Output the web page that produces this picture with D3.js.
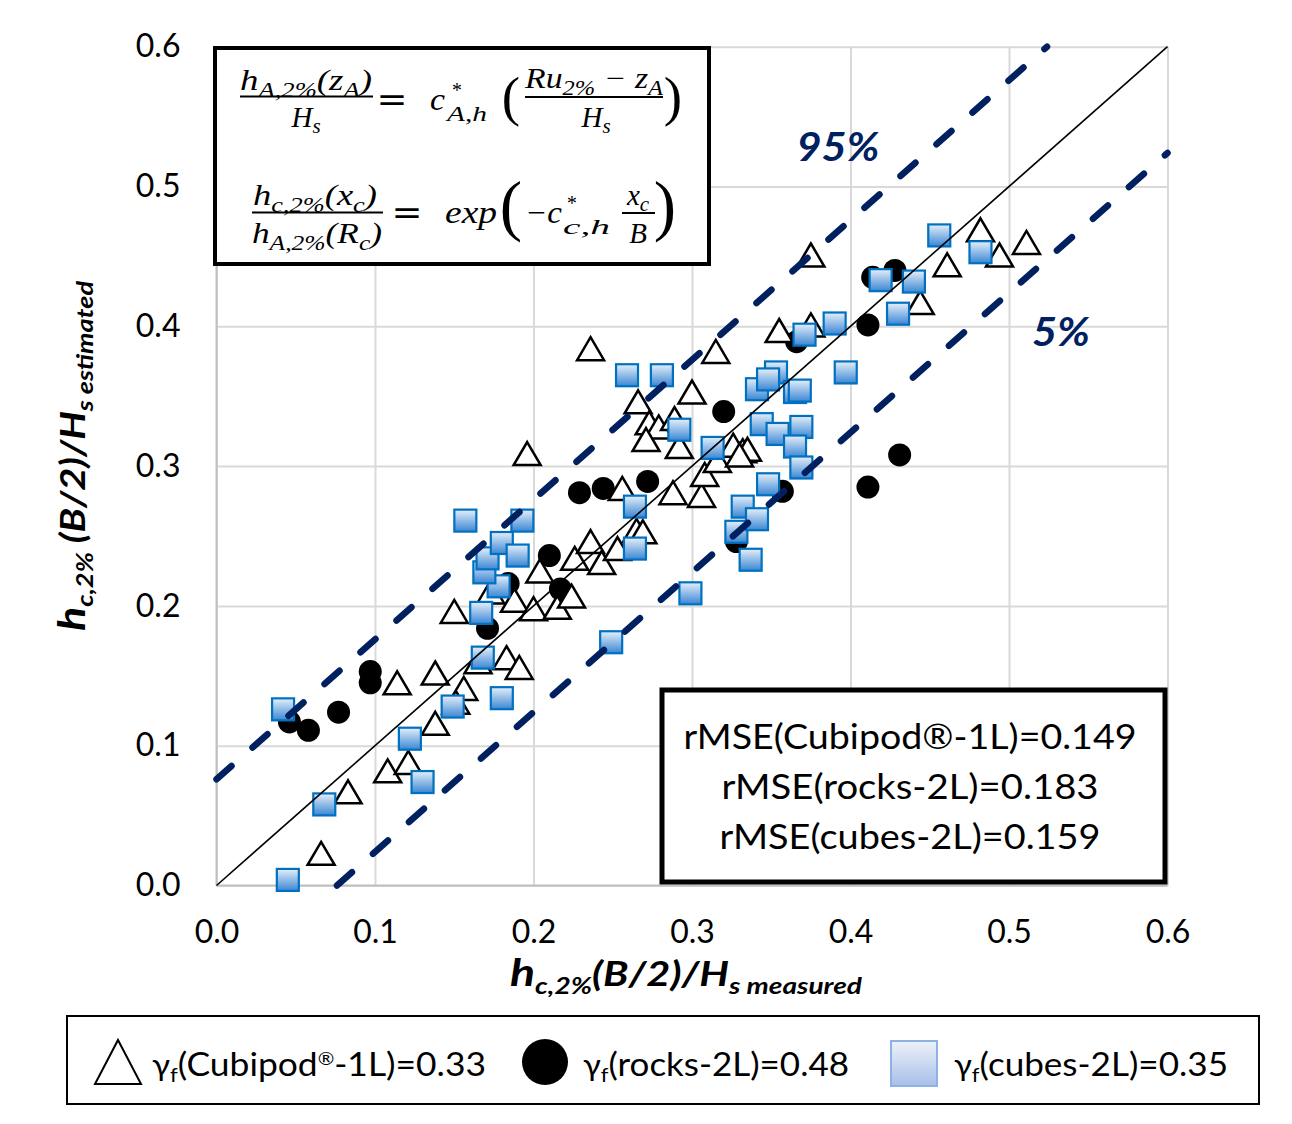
<!DOCTYPE html>
<html>
<head>
<meta charset="utf-8">
<script src="https://cdn.jsdelivr.net/npm/d3@7"></script>
<style>
  body { margin: 0; background: #fff; }
  svg { display: block; }
</style>
</head>
<body>
<svg id="chart" width="1292" height="1124"></svg>
<script>
const cubipodX = [0.066,0.083,0.108,0.121,0.114,0.138,0.138,0.156,0.151,0.165,0.183,0.191,0.150,0.173,0.188,0.200,0.215,0.204,0.226,0.236,0.243,0.253,0.265,0.269,0.224,0.196,0.236,0.266,0.273,0.279,0.289,0.271,0.292,0.256,0.288,0.306,0.308,0.316,0.326,0.332,0.335,0.330,0.300,0.315,0.355,0.375,0.375,0.444,0.461,0.482,0.494,0.511];
const cubipodY = [0.023,0.067,0.082,0.088,0.145,0.152,0.116,0.141,0.131,0.160,0.163,0.156,0.196,0.210,0.204,0.198,0.199,0.225,0.234,0.246,0.231,0.241,0.254,0.253,0.207,0.309,0.384,0.346,0.331,0.328,0.334,0.319,0.314,0.284,0.281,0.279,0.294,0.304,0.315,0.311,0.312,0.308,0.353,0.382,0.397,0.401,0.451,0.417,0.444,0.469,0.451,0.460];

const rocksX = [0.046,0.058,0.077,0.097,0.097,0.171,0.184,0.210,0.217,0.229,0.244,0.272,0.320,0.328,0.357,0.366,0.411,0.414,0.428,0.431,0.411];
const rocksY = [0.117,0.111,0.124,0.153,0.145,0.184,0.216,0.236,0.212,0.281,0.284,0.289,0.339,0.246,0.282,0.389,0.401,0.435,0.440,0.308,0.285];

const cubesX = [0.042,0.045,0.068,0.122,0.130,0.149,0.168,0.167,0.180,0.178,0.169,0.171,0.180,0.190,0.157,0.193,0.249,0.299,0.259,0.281,0.292,0.264,0.264,0.313,0.328,0.332,0.341,0.337,0.348,0.344,0.354,0.341,0.353,0.348,0.365,0.368,0.369,0.365,0.369,0.371,0.390,0.397,0.419,0.430,0.440,0.456,0.482];
const cubesY = [0.126,0.004,0.058,0.105,0.074,0.128,0.163,0.195,0.134,0.214,0.224,0.234,0.245,0.236,0.261,0.261,0.174,0.209,0.365,0.365,0.326,0.271,0.241,0.313,0.253,0.271,0.262,0.233,0.287,0.330,0.323,0.355,0.367,0.362,0.353,0.354,0.328,0.314,0.299,0.394,0.402,0.367,0.433,0.409,0.432,0.465,0.453];

// lineas: 1:1 y bandas 95% / 5%
const lineOneToOne = [[0, 0], [0.6, 0.6]];
const line95 = [[0, 0.076], [0.524, 0.6]];
const line5 = [[0.076, 0], [0.6, 0.524]];

const xTicks = [0, 0.1, 0.2, 0.3, 0.4, 0.5, 0.6];
const yTicks = [0, 0.1, 0.2, 0.3, 0.4, 0.5, 0.6];

const rmseLabels = ["rMSE(Cubipod®-1L)=0.149", "rMSE(rocks-2L)=0.183", "rMSE(cubes-2L)=0.159"];
const legendNames = ["(Cubipod", "(rocks-2L)=0.48", "(cubes-2L)=0.35"];

const W = 1292, H = 1124;
const margin = {top: 46.7, right: W - 1167.5, bottom: H - 885.5, left: 216.5};
const svg = d3.select("#chart");
const SANS = "Lato, 'Liberation Sans', sans-serif";
const SERIF = "'Liberation Serif', 'DejaVu Serif', serif";
const NAVY = "#002060";

const x = d3.scaleLinear().domain([0, 0.6]).range([margin.left, W - margin.right]);
const y = d3.scaleLinear().domain([0, 0.6]).range([H - margin.bottom, margin.top]);

// gradientes
const defs = svg.append("defs");
function grad(id, c0, c1) {
  const g = defs.append("linearGradient").attr("id", id)
    .attr("x1", 0).attr("y1", 0).attr("x2", 0).attr("y2", 1);
  g.append("stop").attr("offset", 0).attr("stop-color", c0);
  g.append("stop").attr("offset", 1).attr("stop-color", c1);
}
grad("cubeGrad", "#e6f0fa", "#3a86d4");
grad("legGrad", "#eef2fa", "#a7bfe8");

// texto con sub/superindices
function rich(g, px, py, parts, o) {
  const t = g.append("text").attr("x", px).attr("y", py)
    .attr("font-family", o.family).attr("font-size", o.size)
    .attr("font-style", o.style || "normal").attr("font-weight", o.weight || "normal")
    .attr("text-anchor", o.anchor || "start").attr("fill", o.fill || "#000");
  if (o.len) t.attr("textLength", o.len).attr("lengthAdjust", "spacingAndGlyphs");
  let cur = 0;
  parts.forEach(p => {
    const sh = p[1] || 0;
    t.append("tspan").attr("dy", sh - cur).attr("font-size", p[2] || o.size).text(p[0]);
    cur = sh;
  });
  return t;
}

// ejes y grilla
const plotW = x(0.6) - x(0), plotH = y(0) - y(0.6);
svg.append("g")
  .attr("transform", `translate(${x(0)},0)`)
  .call(d3.axisLeft(y).tickValues(yTicks).tickFormat(d3.format(".1f")).tickSize(-plotW).tickPadding(36))
  .call(g => {
    g.select(".domain").remove();
    g.selectAll(".tick line").attr("stroke", "#d9d9d9").attr("stroke-width", 2);
    g.selectAll("text").attr("font-family", SANS).attr("font-size", 32).attr("fill", "#000");
  });
svg.append("g")
  .attr("transform", `translate(0,${y(0)})`)
  .call(d3.axisBottom(x).tickValues(xTicks).tickFormat(d3.format(".1f")).tickSize(-plotH).tickPadding(35))
  .call(g => {
    g.select(".domain").remove();
    g.selectAll(".tick line").attr("stroke", "#d9d9d9").attr("stroke-width", 2);
    g.selectAll("text").attr("font-family", SANS).attr("font-size", 32).attr("fill", "#000");
  });
svg.append("line").attr("x1", x(0)).attr("x2", x(0)).attr("y1", y(0.6)).attr("y2", y(0))
  .attr("stroke", "#bfbfbf").attr("stroke-width", 2);
svg.append("line").attr("x1", x(0)).attr("x2", x(0.6)).attr("y1", y(0)).attr("y2", y(0))
  .attr("stroke", "#bfbfbf").attr("stroke-width", 2);

// puntos
svg.append("g").selectAll("circle").data(d3.range(rocksX.length)).join("circle")
  .attr("cx", i => x(rocksX[i])).attr("cy", i => y(rocksY[i])).attr("r", 11.5)
  .attr("fill", "#000");

const tri = "M0,-11.5L13.5,11.5L-13.5,11.5Z";
svg.append("g").selectAll("path").data(d3.range(cubipodX.length)).join("path")
  .attr("d", tri)
  .attr("transform", i => `translate(${x(cubipodX[i])},${y(cubipodY[i])})`)
  .attr("fill", "#fff").attr("stroke", "#000").attr("stroke-width", 2.5).attr("stroke-linejoin", "miter");

svg.append("g").selectAll("rect").data(d3.range(cubesX.length)).join("rect")
  .attr("x", i => x(cubesX[i]) - 11).attr("y", i => y(cubesY[i]) - 11)
  .attr("width", 22).attr("height", 22)
  .attr("fill", "url(#cubeGrad)").attr("stroke", "#0070c0").attr("stroke-width", 2.2);

// lineas
const line = d3.line().x(d => x(d[0])).y(d => y(d[1]));
svg.append("path").attr("d", line(lineOneToOne)).attr("fill", "none")
  .attr("stroke", "#000").attr("stroke-width", 1.6);
[line95, line5].forEach(l => {
  svg.append("path").attr("d", line(l)).attr("fill", "none")
    .attr("stroke", NAVY).attr("stroke-width", 6.5)
    .attr("stroke-dasharray", "20,28").attr("stroke-linecap", "round");
});

svg.append("text").attr("x", 838).attr("y", 161).attr("text-anchor", "middle")
  .attr("font-family", SANS).attr("font-weight", "bold").attr("font-style", "italic")
  .attr("font-size", 40).attr("fill", NAVY)
  .attr("textLength", 83).attr("lengthAdjust", "spacingAndGlyphs").text("95%");
svg.append("text").attr("x", 1061).attr("y", 346).attr("text-anchor", "middle")
  .attr("font-family", SANS).attr("font-weight", "bold").attr("font-style", "italic")
  .attr("font-size", 40).attr("fill", NAVY)
  .attr("textLength", 58).attr("lengthAdjust", "spacingAndGlyphs").text("5%");

// caja de ecuaciones
const eq = svg.append("g");
eq.append("rect").attr("x", 215).attr("y", 48).attr("width", 494).attr("height", 216)
  .attr("fill", "#fff").attr("stroke", "#000").attr("stroke-width", 4);
const mi = {family: SERIF, size: 29, style: "italic"};
const bar = (x1, x2, yy) => eq.append("line").attr("x1", x1).attr("x2", x2).attr("y1", yy).attr("y2", yy)
  .attr("stroke", "#000").attr("stroke-width", 2);
const paren = (ch, px, py, fs) => eq.append("text").attr("x", px).attr("y", py)
  .attr("font-family", SERIF).attr("font-size", fs).attr("text-anchor", "middle").text(ch);
const equals = (px, py) => eq.append("text").attr("x", px).attr("y", py).attr("text-anchor", "middle")
  .attr("font-family", "'DejaVu Serif', serif").attr("font-size", 34)
  .attr("textLength", 31).attr("lengthAdjust", "spacingAndGlyphs").text("=");
// c* con subindice: tres textos apilados sin solaparse
function cStar(px, py, base, baseLen, sub, supX, subX, subLen) {
  rich(eq, px, py, [[base]], {...mi, size: 31, len: baseLen});
  rich(eq, supX, py - 13, [["*"]], {...mi, size: 20});
  rich(eq, subX, py + 11, [[sub]], {...mi, size: 22, len: subLen});
}

// ecuacion 1
rich(eq, 306, 90, [["h"], ["A,2%", 7, 21], ["(z", 0], ["A", 7, 21], [")", 0]], {...mi, anchor: "middle", len: 132});
bar(240, 373, 96.5);
rich(eq, 306, 127, [["H"], ["s", 6, 21]], {...mi, anchor: "middle"});
equals(392, 111);
cStar(430, 110, "c", 15, "A,h", 451, 447, 40);
paren("(", 511, 115, 55);
rich(eq, 594, 88, [["Ru"], ["2%", 7, 21], [" − z", 0], ["A", 7, 21]], {...mi, anchor: "middle", len: 138});
bar(525, 663, 97);
rich(eq, 596, 127, [["H"], ["s", 6, 21]], {...mi, anchor: "middle"});
paren(")", 673, 115, 55);

// ecuacion 2
rich(eq, 315, 205, [["h"], ["c,2%", 7, 21], ["(x", 0], ["c", 7, 21], [")", 0]], {...mi, anchor: "middle", len: 124});
bar(252, 383, 212.5);
rich(eq, 317, 243, [["h"], ["A,2%", 7, 21], ["(R", 0], ["c", 7, 21], [")", 0]], {...mi, anchor: "middle", len: 130});
equals(407, 224);
rich(eq, 445, 223, [["exp"]], {...mi, size: 32, len: 52});
paren("(", 511, 228, 67);
cStar(525, 223, "−c", 37, "c,h", 566, 563, 47);
rich(eq, 638, 205, [["x"], ["c", 6, 21]], {...mi, anchor: "middle"});
bar(622, 655, 213);
rich(eq, 638, 243, [["B"]], {...mi, anchor: "middle"});
paren(")", 665, 228, 67);

// caja rMSE
const rb = svg.append("g");
rb.append("rect").attr("x", 662).attr("y", 690).attr("width", 503).attr("height", 192)
  .attr("fill", "#fff").attr("stroke", "#000").attr("stroke-width", 5);
const rmseY = [749, 799, 849];
const rmseW = [453, 377, 381];
rmseLabels.forEach((t, i) => {
  rb.append("text").attr("x", 910).attr("y", rmseY[i]).attr("text-anchor", "middle")
    .attr("font-family", SANS).attr("font-size", 34).attr("fill", "#000")
    .attr("textLength", rmseW[i]).attr("lengthAdjust", "spacingAndGlyphs").text(t);
});

// titulos de ejes
const tt = {family: SANS, size: 34, style: "italic", weight: "bold"};
rich(svg, 686, 986, [["h", 0, 38], ["c,2%", 8, 23], ["(B/2)/H", 0, 34], ["s measured", 8, 23]], {...tt, anchor: "middle", len: 352});
const yt = svg.append("g").attr("transform", "translate(85,456) rotate(-90)");
rich(yt, 0, 0, [["h", 0, 38], ["c,2%", 8, 23], [" (B/2)/H", 0, 34], ["s estimated", 8, 23]], {...tt, anchor: "middle", len: 350});

// leyenda
const lg = svg.append("g");
lg.append("rect").attr("x", 67).attr("y", 1016).attr("width", 1192).attr("height", 88)
  .attr("fill", "#fff").attr("stroke", "#000").attr("stroke-width", 2);
lg.append("path").attr("d", "M118,1040L141,1084L95,1084Z").attr("fill", "#fff")
  .attr("stroke", "#000").attr("stroke-width", 2);
lg.append("ellipse").attr("cx", 545).attr("cy", 1062).attr("rx", 23).attr("ry", 23).attr("fill", "#000");
lg.append("rect").attr("x", 891).attr("y", 1041).attr("width", 46).attr("height", 45)
  .attr("fill", "url(#legGrad)").attr("stroke", "#8eb1e3").attr("stroke-width", 2);
const lt = {family: SANS, size: 32};
rich(lg, 152, 1076, [["γ", 0, 30], ["f", 6, 20], [legendNames[0], 0, 32], ["®", -11, 18], ["-1L)=0.33", 0, 32]], {...lt, len: 334});
rich(lg, 583, 1076, [["γ", 0, 30], ["f", 6, 20], [legendNames[1], 0, 32]], {...lt, len: 266});
rich(lg, 954, 1076, [["γ", 0, 30], ["f", 6, 20], [legendNames[2], 0, 32]], {...lt, len: 274});
</script>
</body>
</html>
